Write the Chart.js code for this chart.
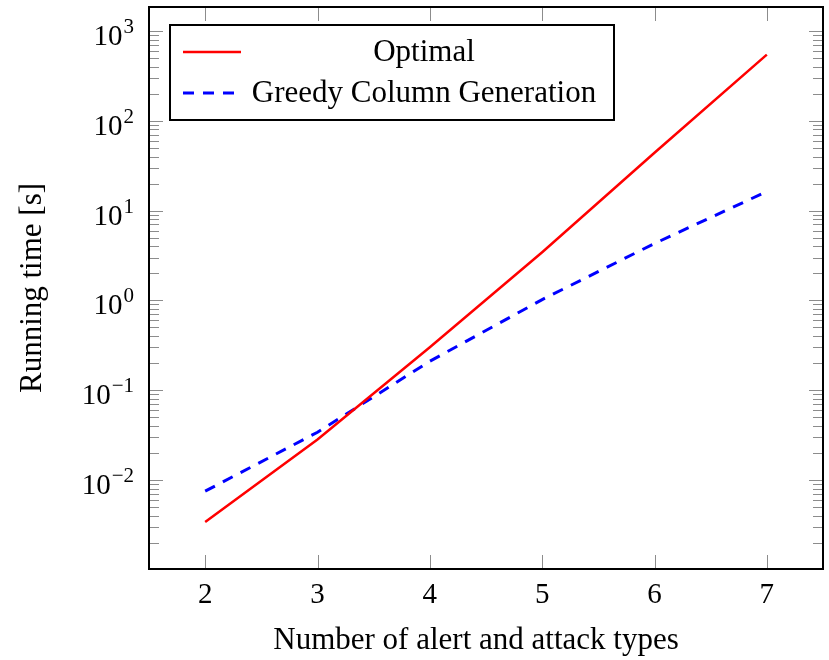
<!DOCTYPE html>
<html>
<head>
<meta charset="utf-8">
<script src="https://cdn.jsdelivr.net/npm/chart.js@4/dist/chart.umd.min.js"></script>
<style>
  body { margin: 0; background: #fff; }
  canvas { display: block; }
</style>
</head>
<body>
<canvas id="grafica" width="829" height="660"></canvas>
<script>
// Datos
const tipos = [2, 3, 4, 5, 6, 7];
const tiempoOptimo = [0.0034, 0.0283, 0.30, 3.44, 44, 546];
const tiempoGreedy = [0.0075, 0.034, 0.21, 1.02, 4.3, 16.3];
const ticksX = [2, 3, 4, 5, 6, 7];
const exponentesY = [-2, -1, 0, 1, 2, 3];
const tituloX = 'Number of alert and attack types';

const fuente = "'Liberation Serif', 'Times New Roman', serif";

function linea(ctx, x1, y1, x2, y2) {
    ctx.beginPath();
    ctx.moveTo(x1, y1);
    ctx.lineTo(x2, y2);
    ctx.stroke();
}

// Marco, ticks interiores y etiquetas 10^n
const marco = {
    id: 'marco',
    afterDatasetsDraw(chart) {
        const ctx = chart.ctx;
        const a = chart.chartArea;
        const sx = chart.scales.x;
        const sy = chart.scales.y;
        ctx.save();
        ctx.strokeStyle = 'rgba(0,0,0,0.45)';
        ctx.lineWidth = 1;

        for (let e = -3; e <= 3; e++) {
            for (let m = 2; m <= 9; m++) {
                const v = m * Math.pow(10, e);
                if (v < sy.min || v > sy.max) continue;
                const py = Math.round(sy.getPixelForValue(v)) + 0.5;
                linea(ctx, a.left, py, a.left + 10, py);
                linea(ctx, a.right - 10, py, a.right, py);
            }
        }
        exponentesY.forEach(function (e) {
            const py = Math.round(sy.getPixelForValue(Math.pow(10, e))) + 0.5;
            linea(ctx, a.left, py, a.left + 14, py);
            linea(ctx, a.right - 14, py, a.right, py);
        });
        ticksX.forEach(function (v) {
            const px = Math.round(sx.getPixelForValue(v)) + 0.5;
            linea(ctx, px, a.top, px, a.top + 14);
            linea(ctx, px, a.bottom - 14, px, a.bottom);
        });

        ctx.strokeStyle = '#000';
        ctx.lineWidth = 2;
        ctx.strokeRect(a.left, a.top, a.right - a.left, a.bottom - a.top);

        // etiquetas del eje y
        ctx.fillStyle = '#000';
        ctx.textAlign = 'right';
        ctx.textBaseline = 'alphabetic';
        exponentesY.forEach(function (e) {
            const py = sy.getPixelForValue(Math.pow(10, e));
            const exp = e < 0 ? '\u2212' + Math.abs(e) : String(e);
            ctx.font = '21px ' + fuente;
            const w = ctx.measureText(exp).width;
            ctx.fillText(exp, 134, py + 2);
            ctx.font = '29px ' + fuente;
            ctx.fillText('10', 134 - w - 1, py + 14);
        });

        // titulo del eje x
        ctx.font = '31px ' + fuente;
        ctx.textAlign = 'center';
        ctx.textBaseline = 'middle';
        ctx.fillText(tituloX, 476, 641);
        ctx.restore();
    },
    afterDraw(chart) {
        // leyenda
        const ctx = chart.ctx;
        ctx.save();
        ctx.fillStyle = '#fff';
        ctx.fillRect(170, 25, 444, 95);
        ctx.strokeStyle = '#000';
        ctx.lineWidth = 2;
        ctx.strokeRect(170, 25, 444, 95);
        const filas = [52, 93];
        chart.data.datasets.forEach(function (ds, i) {
            ctx.strokeStyle = ds.borderColor;
            ctx.lineWidth = ds.borderWidth;
            ctx.setLineDash(ds.borderDash || []);
            linea(ctx, 183, filas[i], 241, filas[i]);
            ctx.setLineDash([]);
            ctx.fillStyle = '#000';
            ctx.font = '31px ' + fuente;
            ctx.textAlign = 'center';
            ctx.textBaseline = 'middle';
            ctx.fillText(ds.label, 424, filas[i] + 1);
        });
        ctx.restore();
    }
};

const ctxGrafica = document.getElementById('grafica').getContext('2d');
new Chart(ctxGrafica, {
    type: 'line',
    data: {
        datasets: [{
            label: 'Optimal',
            data: tipos.map((x, i) => ({ x: x, y: tiempoOptimo[i] })),
            borderColor: '#ff0000',
            borderWidth: 2.5,
            pointRadius: 0,
            tension: 0,
            fill: false
        }, {
            label: 'Greedy Column Generation',
            data: tipos.map((x, i) => ({ x: x, y: tiempoGreedy[i] })),
            borderColor: '#0000ff',
            borderWidth: 3,
            borderDash: [11, 9],
            pointRadius: 0,
            tension: 0,
            fill: false
        }]
    },
    options: {
        responsive: false,
        animation: false,
        layout: { padding: { top: 7, right: 6, left: 0, bottom: 0 } },
        plugins: {
            legend: { display: false },
            tooltip: { enabled: false }
        },
        scales: {
            x: {
                type: 'linear',
                min: 1.5,
                max: 7.5,
                afterBuildTicks: function (s) { s.ticks = ticksX.map(v => ({ value: v })); },
                afterFit: function (s) { s.height = 91; },
                grid: { display: false, drawTicks: false },
                border: { display: false },
                ticks: {
                    color: '#000',
                    padding: 9,
                    font: { family: fuente, size: 29 }
                },
                title: { display: false }
            },
            y: {
                type: 'logarithmic',
                min: 0.00102,
                max: 1850,
                afterFit: function (s) { s.width = 149; },
                grid: { display: false, drawTicks: false },
                border: { display: false },
                ticks: { display: false },
                title: {
                    display: true,
                    text: 'Running time [s]',
                    color: '#000',
                    padding: { top: 14, bottom: 0 },
                    font: { family: fuente, size: 31 }
                }
            }
        }
    },
    plugins: [marco]
});
</script>
</body>
</html>
